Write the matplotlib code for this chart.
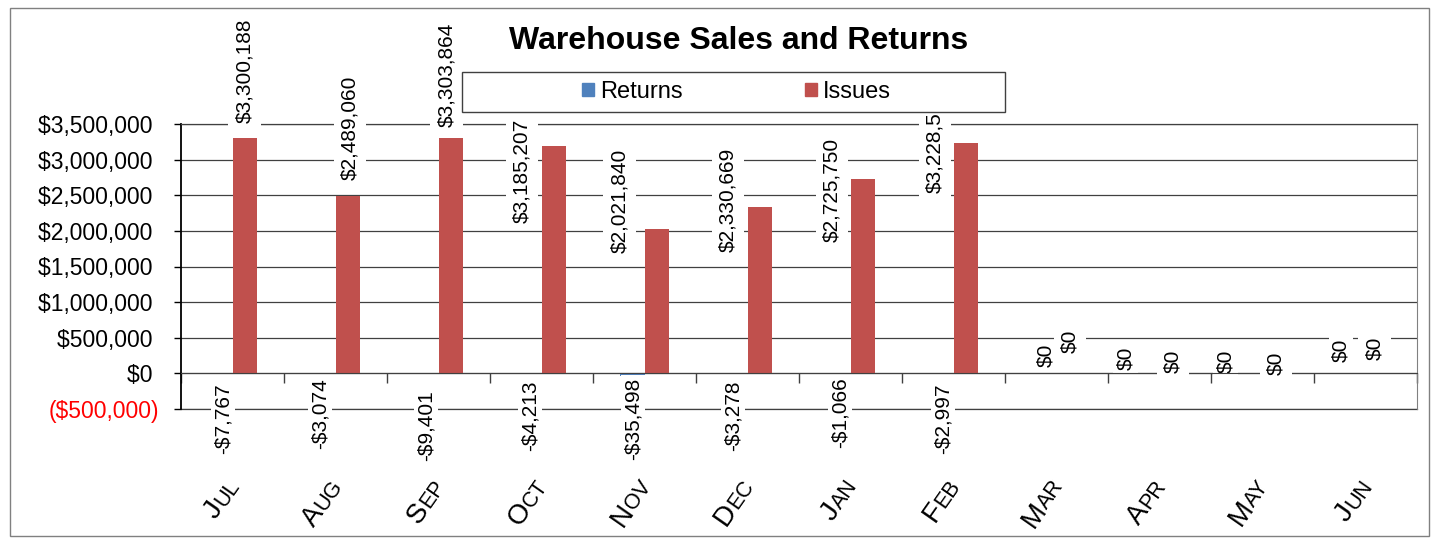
import numpy as np
import matplotlib
matplotlib.use("Agg")
import matplotlib.pyplot as plt
from matplotlib.patches import Patch, Rectangle
from matplotlib.transforms import blended_transform_factory, offset_copy
from matplotlib.font_manager import FontProperties
from matplotlib.textpath import TextToPath

plt.rcParams['font.family'] = ['Liberation Sans', 'DejaVu Sans']

# --- datos ---
meses = ['Jul', 'Aug', 'Sep', 'Oct', 'Nov', 'Dec', 'Jan', 'Feb', 'Mar', 'Apr', 'May', 'Jun']
returns = [-7767, -3074, -9401, -4213, -35498, -3278, -1066, -2997, 0, 0, 0, 0]
issues = [3300188, 2489060, 3303864, 3185207, 2021840, 2330669, 2725750, 3228512, 0, 0, 0, 0]
yticks = [-500000, 0, 500000, 1000000, 1500000, 2000000, 2500000, 3000000, 3500000]

# --- posicion de las etiquetas (movidas a mano en el original) ---
issues_lbl_dx = [0.12, 0.14, 0.08, -0.19, -0.24, -0.19, -0.18, -0.18, 0.13, 0.13, 0.13, 0.09]
issues_lbl_y = [3510000, 2713000, 3462000, 2108000, 1687000, 1701000, 1841000, 2530000,
                281000, 0, -28000, 183000]
returns_lbl_dx = [-0.09, -0.15, -0.12, -0.11, -0.11, -0.14, -0.10, -0.10, -0.10, -0.33, -0.36, -0.24]
returns_lbl_y = [-141000, -70000, -239000, -98000, -56000, -98000, -56000, -141000,
                 84000, 42000, 0, 155000]

AZUL = '#4F81BD'
ROJO = '#C0504D'

W, H = 1432, 538
fig = plt.figure(figsize=(W / 100, H / 100), dpi=100)
ax = fig.add_axes([181 / W, (H - 409) / H, (1417 - 181) / W, (409 - 124) / H])

x = np.arange(len(meses))
ancho = 0.24
ax.bar(x - ancho / 2, returns, ancho, color=AZUL, label='Returns', zorder=1)
ax.bar(x + ancho / 2, issues, ancho, color=ROJO, label='Issues', zorder=1)

ax.set_xlim(-0.5, len(meses) - 0.5)
ax.set_ylim(-500000, 3500000)


def moneda(v):
    if v < 0:
        return '-${:,.0f}'.format(-v)
    return '${:,.0f}'.format(v)


def eje(v):
    # formato contable: negativos en rojo entre parentesis
    if v < 0:
        return '(${:,.0f})'.format(-v)
    return '${:,.0f} '.format(v)


ax.set_yticks(yticks, labels=[eje(v) for v in yticks])
ax.tick_params(axis='y', direction='out', length=5, width=1, pad=11, colors='black')
for t, v in zip(ax.get_yticklabels(), yticks):
    t.set_color('red' if v < 0 else 'black')
    t.set_fontsize(16.5)

ax.grid(axis='y', color='#404040', linewidth=0.9, zorder=0)
ax.set_axisbelow(True)
ax.axhline(-500000, color='#404040', linewidth=0.9, clip_on=False, zorder=0.6)

# eje x en cero con marcas entre categorias
ax.spines['bottom'].set_position(('data', 0))
ax.spines['bottom'].set_color('#404040')
ax.set_xticks(np.arange(-0.5, len(meses), 1.0))
ax.tick_params(axis='x', direction='out', length=7, width=1, labelbottom=False, colors='#404040')
ax.spines['left'].set_color('black')
ax.spines['left'].set_linewidth(1.3)
ax.spines['right'].set_color('#808080')
ax.spines['top'].set_color('#404040')
ax.spines['top'].set_linewidth(0.9)

# etiquetas de datos
caja = dict(facecolor='white', edgecolor='none', pad=5)
for i in range(len(meses)):
    ax.text(i + issues_lbl_dx[i], issues_lbl_y[i], moneda(issues[i]), rotation=90,
            ha='center', va='bottom', fontsize=15, bbox=caja, clip_on=False, zorder=3)
    va = 'top' if returns[i] < 0 else 'bottom'
    ax.text(i + returns_lbl_dx[i], returns_lbl_y[i], moneda(returns[i]), rotation=90,
            ha='center', va=va, fontsize=15, bbox=dict(facecolor='white', edgecolor='none', pad=2),
            clip_on=False, zorder=2)

# meses en versalitas, rotados
ang = 55
fp_big = FontProperties(family='Liberation Sans', size=20)
fp_small = FontProperties(family='Liberation Sans', size=15.5)
t2p = TextToPath()
trans = blended_transform_factory(ax.transData, ax.transAxes)
c, s = np.cos(np.radians(ang)), np.sin(np.radians(ang))
for i, m in enumerate(meses):
    w1 = t2p.get_text_width_height_descent(m[0], fp_big, ismath=False)[0]
    w2 = t2p.get_text_width_height_descent(m[1:].upper(), fp_small, ismath=False)[0]
    total = w1 + w2
    t0 = offset_copy(trans, fig=fig, x=-total * c, y=-total * s, units='points')
    t1 = offset_copy(trans, fig=fig, x=-w2 * c, y=-w2 * s, units='points')
    ax.text(i + 0.07, -0.27, m[0], fontproperties=fp_big, rotation=ang, rotation_mode='anchor',
            ha='left', va='baseline', transform=t0, clip_on=False)
    ax.text(i + 0.07, -0.27, m[1:].upper(), fontproperties=fp_small, rotation=ang,
            rotation_mode='anchor', ha='left', va='baseline', transform=t1, clip_on=False)

# titulo
fig.text(739 / W, (H - 49) / H, 'Warehouse Sales and Returns', ha='center', va='baseline',
         fontsize=23, fontweight='bold')

# leyenda con marco propio
fig.add_artist(Rectangle((462 / W, (H - 112) / H), (1005 - 462) / W, 40 / H,
                         transform=fig.transFigure, facecolor='white', edgecolor='#404040',
                         linewidth=1, zorder=4))
handles = [Patch(color=AZUL), Patch(color=ROJO)]
fig.legend(handles, ['Returns', 'Issues'], loc='center', bbox_to_anchor=(736.5 / W, (H - 92) / H),
           ncol=2, frameon=False, fontsize=17, handlelength=0.5, handleheight=0.5,
           handletextpad=0.25, columnspacing=5.2, borderpad=0, borderaxespad=0)

# borde exterior
fig.add_artist(Rectangle((10 / W, 2 / H), 1419 / W, 528 / H, transform=fig.transFigure,
                         facecolor='none', edgecolor='#808080', linewidth=1, zorder=6))

plt.savefig('out.png', dpi=100)
